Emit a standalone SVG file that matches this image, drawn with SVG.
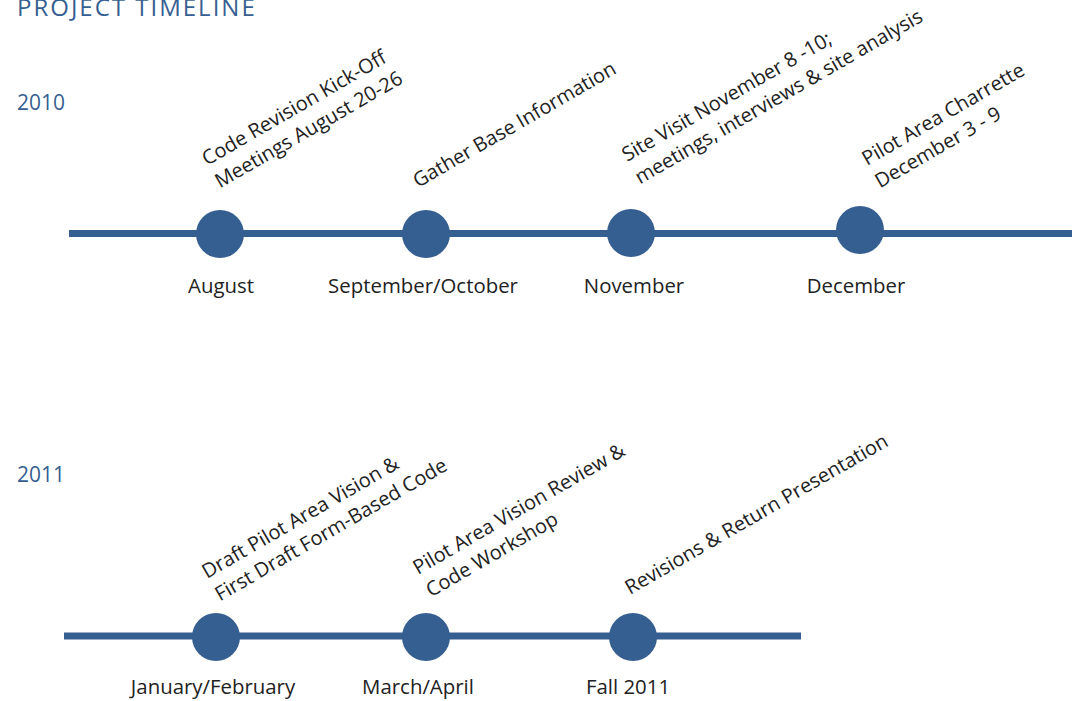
<svg xmlns="http://www.w3.org/2000/svg" width="1072" height="701" viewBox="0 0 1072 701">
<style>
.line{stroke:#365f91;stroke-width:7;fill:none}
.dot{fill:#365f91}
.lbl{font-family:"Open Sans","Liberation Sans",sans-serif;font-size:20px;fill:#222}
.mid{text-anchor:middle;font-size:20.4px}
.year{font-family:"Open Sans","Liberation Sans",sans-serif;font-size:21px;fill:#365f91}
.title{font-family:"Open Sans","Liberation Sans",sans-serif;font-size:24px;fill:#365f91;letter-spacing:2px}
</style>
<rect width="1072" height="701" fill="#fff"/>
<text class="title" x="17" y="16">PROJECT TIMELINE</text>
<text class="year" x="17" y="110">2010</text>
<text class="year" x="17" y="482">2011</text>
<g id="connectors">
<line class="line" x1="69" y1="233.5" x2="1072" y2="233.5"/>
<line class="line" x1="64" y1="636" x2="801" y2="636"/>
</g>
<g id="n-aug"><circle class="dot" cx="220" cy="234" r="24"/><text class="lbl mid" x="221" y="293">August</text>
<text class="lbl" transform="translate(207,166) rotate(-30)"><tspan x="0" y="0">Code Revision Kick-Off</tspan><tspan x="0" y="26">Meetings August 20-26</tspan></text></g>
<g id="n-sep"><circle class="dot" cx="426" cy="234" r="24"/><text class="lbl mid" x="423" y="293">September/October</text>
<text class="lbl" transform="translate(418,188) rotate(-30)">Gather Base Information</text></g>
<g id="n-nov"><circle class="dot" cx="631" cy="233" r="24"/><text class="lbl mid" x="634" y="293">November</text>
<text class="lbl" transform="translate(627,162) rotate(-30)"><tspan x="0" y="0">Site Visit November 8 -10;</tspan><tspan x="0" y="26">meetings, interviews &amp; site analysis</tspan></text></g>
<g id="n-dec"><circle class="dot" cx="860" cy="230" r="24"/><text class="lbl mid" x="856" y="293">December</text>
<text class="lbl" transform="translate(867,166) rotate(-30)"><tspan x="0" y="0">Pilot Area Charrette</tspan><tspan x="0" y="26">December 3 - 9</tspan></text></g>
<g id="n-jan"><circle class="dot" cx="216" cy="637" r="24"/><text class="lbl mid" x="213" y="694">January/February</text>
<text class="lbl" transform="translate(207,579) rotate(-30)"><tspan x="0" y="0">Draft Pilot Area Vision &amp;</tspan><tspan x="0" y="26">First Draft Form-Based Code</tspan></text></g>
<g id="n-mar"><circle class="dot" cx="426" cy="637" r="24"/><text class="lbl mid" x="418" y="694">March/April</text>
<text class="lbl" transform="translate(418,575) rotate(-30)"><tspan x="0" y="0">Pilot Area Vision Review &amp;</tspan><tspan x="0" y="26">Code Workshop</tspan></text></g>
<g id="n-fall"><circle class="dot" cx="633" cy="637" r="24"/><text class="lbl mid" x="628" y="694">Fall 2011</text>
<text class="lbl" transform="translate(630,595) rotate(-30)">Revisions &amp; Return Presentation</text></g>
</svg>
